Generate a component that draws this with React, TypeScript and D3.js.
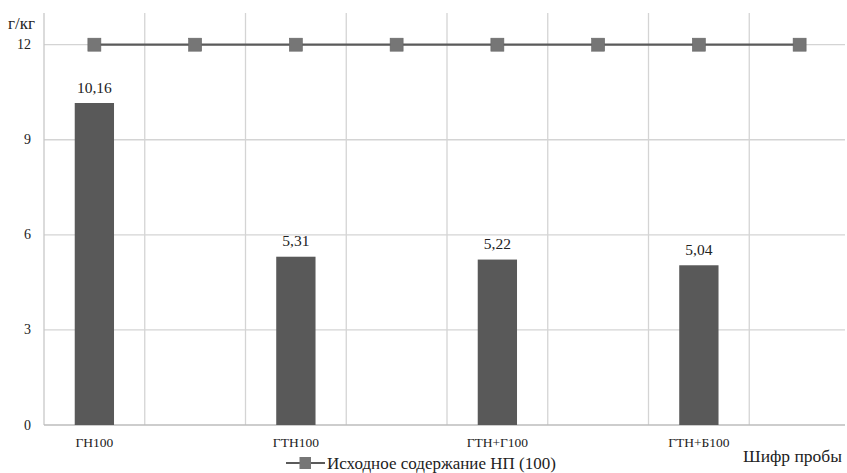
import React from "react";
import * as d3 from "d3";

// Sample codes along the x axis (unlabelled slots sit between them)
const categories = ["ГН100", "", "ГТН100", "", "ГТН+Г100", "", "ГТН+Б100", ""];
// Measured content, g/kg (null where no bar is drawn)
const measured: (number | null)[] = [10.16, null, 5.31, null, 5.22, null, 5.04, null];
// Initial content reference line
const initial = [12, 12, 12, 12, 12, 12, 12, 12];
const yTicks = [0, 3, 6, 9, 12];

const W = 847;
const H = 473;
const margin = { left: 44, right: 1, top: 13, bottom: 48 };
const txt = { fontFamily: "Liberation Serif" };

export default function App() {
  const x = d3
    .scaleBand<number>()
    .domain(d3.range(categories.length))
    .range([margin.left, W - margin.right + 4])
    .paddingInner(0)
    .paddingOuter(0);
  const y = d3.scaleLinear().domain([0, 13]).range([H - margin.bottom, margin.top]);
  const bw = x.bandwidth();
  const barW = bw * 0.39;
  const fmt = (v: number) => v.toFixed(2).replace(".", ",");

  const line = d3
    .line<number>()
    .x((_, i) => (x(i) as number) + bw / 2)
    .y((d) => y(d));

  const gridXs = d3.range(1, categories.length + 1).map((i) => margin.left + i * bw);

  return (
    <svg width={W} height={H} style={{ position: "absolute", left: 0, top: 0, background: "#fff" }}>
      {/* horizontal gridlines */}
      {yTicks.slice(1).map((t) => (
        <line key={t} x1={margin.left} x2={W - 2} y1={y(t)} y2={y(t)} stroke="#d4d4d4" strokeWidth={1.3} />
      ))}
      {/* vertical gridlines */}
      {gridXs.map((gx, i) => (
        <line key={i} x1={gx} x2={gx} y1={margin.top} y2={y(0)} stroke="#d4d4d4" strokeWidth={1.3} />
      ))}
      {/* y axis and baseline */}
      <line x1={margin.left} x2={margin.left} y1={margin.top} y2={y(0)} stroke="#c8c8c8" strokeWidth={1.3} />
      <line x1={margin.left} x2={W - 2} y1={y(0)} y2={y(0)} stroke="#bdbdbd" strokeWidth={1.5} />

      {/* y tick labels */}
      {yTicks.map((t) => (
        <text key={t} x={31} y={y(t) + 4.5} textAnchor="end" fontSize={14} fill="#222" style={txt}>
          {t}
        </text>
      ))}
      <text x={8} y={29} fontSize={17} fill="#222" style={txt}>
        г/кг
      </text>

      {/* bars with value labels */}
      {measured.map((v, i) =>
        v == null ? null : (
          <g key={i}>
            <rect
              x={(x(i) as number) + bw / 2 - barW / 2}
              y={y(v)}
              width={barW}
              height={y(0) - y(v)}
              fill="#595959"
            />
            <text
              x={(x(i) as number) + bw / 2}
              y={y(v) - 10.5}
              textAnchor="middle"
              fontSize={15.5}
              fill="#222"
              style={txt}
            >
              {fmt(v)}
            </text>
          </g>
        )
      )}

      {/* initial content line */}
      <path d={line(initial) as string} fill="none" stroke="#5a5a5a" strokeWidth={2.2} />
      {initial.map((v, i) => (
        <rect
          key={i}
          x={(x(i) as number) + bw / 2 - 6.5}
          y={y(v) - 6.5}
          width={13}
          height={13}
          fill="#767676"
          stroke="#666"
          strokeWidth={0.6}
        />
      ))}

      {/* category labels */}
      {categories.map((c, i) =>
        c ? (
          <text
            key={i}
            x={(x(i) as number) + bw / 2}
            y={446.5}
            textAnchor="middle"
            fontSize={13.5}
            fill="#222"
            style={txt}
          >
            {c}
          </text>
        ) : null
      )}
      <text x={W - 5} y={462} textAnchor="end" fontSize={17.5} fill="#222" style={txt}>
        Шифр пробы
      </text>

      {/* legend */}
      <line x1={286} x2={325} y1={463} y2={463} stroke="#5a5a5a" strokeWidth={2.2} />
      <rect x={299.5} y={457} width={11.5} height={12} fill="#767676" />
      <text x={327} y={468.5} fontSize={17} fill="#222" style={txt}>
        Исходное содержание НП (100)
      </text>
    </svg>
  );
}
